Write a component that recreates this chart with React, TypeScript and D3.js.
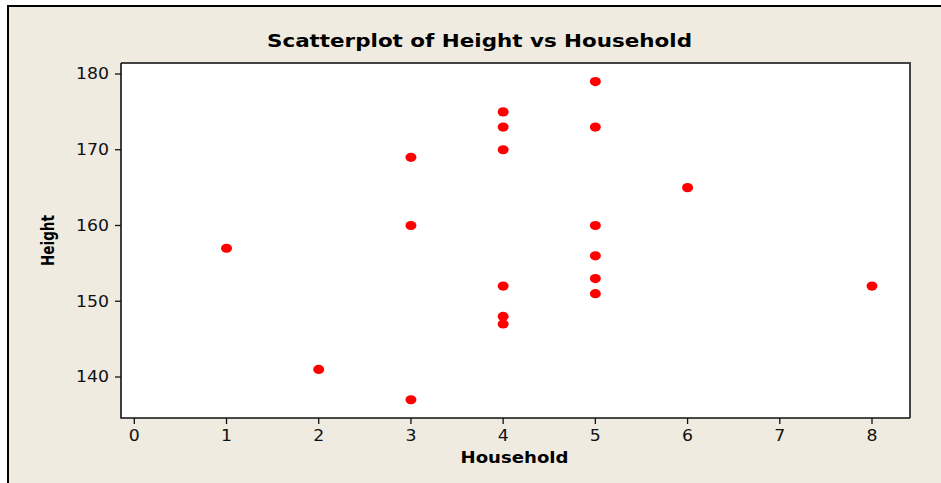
import React from "react";
import * as d3 from "d3";

const household: number[] = [1, 2, 3, 3, 3, 4, 4, 4, 4, 4, 4, 5, 5, 5, 5, 5, 5, 6, 8];
const height: number[] = [157, 141, 169, 160, 137, 175, 173, 170, 152, 148, 147, 179, 173, 160, 156, 153, 151, 165, 152];
const xTicks: number[] = [0, 1, 2, 3, 4, 5, 6, 7, 8];
const yTicks: number[] = [140, 150, 160, 170, 180];
const title = "Scatterplot of Height vs Household";
const xLabel = "Household";
const yLabel = "Height";

const W = 941;
const H = 483;
const plot = { left: 121, top: 63, right: 910, bottom: 418 };

export default function App() {
  const x = d3.scaleLinear().domain([0, 8]).range([134.3, 872]);
  const y = d3.scaleLinear().domain([140, 180]).range([377, 74]);
  const font = "Verdana, 'DejaVu Sans', sans-serif";
  return (
    <svg
      width={W}
      height={H}
      style={{ position: "absolute", left: 0, top: 0, display: "block" }}
    >
      <rect x={0} y={0} width={W} height={H} fill="#ffffff" />
      <rect x={8} y={6} width={W + 10} height={H + 10} fill="#EFEBE1" stroke="#000" strokeWidth={2} />
      <rect
        x={plot.left}
        y={plot.top}
        width={plot.right - plot.left}
        height={plot.bottom - plot.top}
        fill="#ffffff"
      />
      {/* top & right borders */}
      <path
        d={`M${plot.left},${plot.top}H${plot.right}V${plot.bottom}`}
        fill="none"
        stroke="#444"
        strokeWidth={2}
      />
      {/* axes */}
      <path
        d={`M${plot.left},${plot.top}V${plot.bottom}H${plot.right}`}
        fill="none"
        stroke="#111"
        strokeWidth={1.6}
      />
      {yTicks.map((t) => (
        <g key={"y" + t}>
          <line x1={115} x2={plot.left} y1={y(t)} y2={y(t)} stroke="#111" strokeWidth={1.3} />
          <text
            x={109}
            y={y(t)}
            dy="0.36em"
            textAnchor="end"
            fontFamily={font}
            fontSize={15}
            textLength={33}
            lengthAdjust="spacingAndGlyphs"
            fill="#111"
          >
            {t}
          </text>
        </g>
      ))}
      {xTicks.map((t) => (
        <g key={"x" + t}>
          <line x1={x(t)} x2={x(t)} y1={plot.bottom} y2={plot.bottom + 6} stroke="#111" strokeWidth={1.3} />
          <text
            x={x(t)}
            y={441}
            textAnchor="middle"
            fontFamily={font}
            fontSize={15}
            textLength={11}
            lengthAdjust="spacingAndGlyphs"
            fill="#111"
          >
            {t}
          </text>
        </g>
      ))}
      {household.map((h, i) => (
        <ellipse key={"p" + i} cx={x(h)} cy={y(height[i])} rx={5.5} ry={4.6} fill="#FF0000" />
      ))}
      <text
        x={479.5}
        y={47}
        textAnchor="middle"
        fontFamily={font}
        fontWeight="bold"
        fontSize={17}
        textLength={425}
        lengthAdjust="spacingAndGlyphs"
        fill="#000"
      >
        {title}
      </text>
      <text
        x={514.5}
        y={462.5}
        textAnchor="middle"
        fontFamily={font}
        fontWeight="bold"
        fontSize={16}
        textLength={108}
        lengthAdjust="spacingAndGlyphs"
        fill="#000"
      >
        {xLabel}
      </text>
      <text
        transform={`translate(54,240.5) rotate(-90)`}
        textAnchor="middle"
        fontFamily={font}
        fontWeight="bold"
        fontSize={17}
        textLength={51}
        lengthAdjust="spacingAndGlyphs"
        fill="#000"
      >
        {yLabel}
      </text>
    </svg>
  );
}
